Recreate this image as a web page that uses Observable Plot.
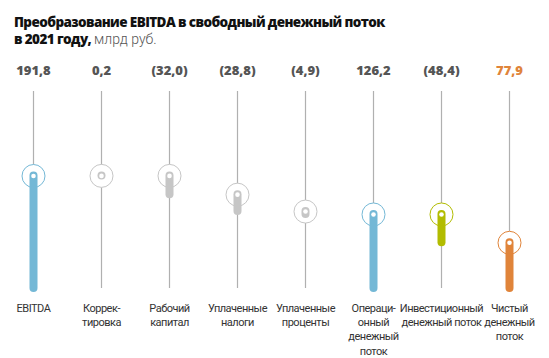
<!DOCTYPE html>
<html><head><meta charset="utf-8">
<script src="https://cdn.jsdelivr.net/npm/d3@7"></script>
<script src="https://cdn.jsdelivr.net/npm/@observablehq/plot@0.6"></script>
<style>
body{margin:0;background:#fff;font-family:"Open Sans",sans-serif;}
#title{height:55px;box-sizing:border-box;padding:14px 0 0 14px;font-size:13.5px;line-height:17px;color:#111;font-weight:800;white-space:nowrap;letter-spacing:-0.6px;}
#title .unit{font-family:Roboto,sans-serif;font-size:14px;font-weight:300;color:#555;letter-spacing:0;}
</style></head><body>
<div id="title">Преобразование EBITDA в свободный денежный поток<br>в 2021 году, <span class="unit">млрд руб.</span></div>
<div id="chart"></div>
<script>
const categories = ["EBITDA", "Коррек-\nтировка", "Рабочий\nкапитал", "Уплаченные\nналоги", "Уплаченные\nпроценты", "Операци-\nонный\nденежный\nпоток", "Инвестиционный\nденежный поток", "Чистый\nденежный\nпоток"];
const values = [191.8, 0.2, -32.0, -28.8, -4.9, 126.2, -48.4, 77.9];
const valueLabels = ["191,8", "0,2", "(32,0)", "(28,8)", "(4,9)", "126,2", "(48,4)", "77,9"];
const kinds = ["total", "change", "change", "change", "change", "total", "change", "total"];
const barColors = ["#74b8d6", "#c6c6c6", "#c6c6c6", "#c6c6c6", "#c6c6c6", "#74b8d6", "#b2bc00", "#e0843a"];
const labelColors = ["#555", "#555", "#555", "#555", "#555", "#555", "#555", "#e0843a"];

let running = 0;
const data = categories.map((cat, i) => {
  let start, end;
  if (kinds[i] === "total") { start = 0; end = values[i]; running = values[i]; }
  else { start = running; end = running + values[i]; running = end; }
  return {cat, start, end, top: Math.max(start, end), label: valueLabels[i], color: barColors[i], labelColor: labelColors[i]};
});

const yMax = 342.7;
const chart = Plot.plot({
  width: 549, height: 303,
  marginLeft: 31, marginRight: 39, marginTop: 32, marginBottom: 70,
  style: {fontFamily: "'Open Sans', sans-serif", background: "white"},
  x: {type: "point", domain: categories, padding: 0, axis: null},
  y: {domain: [0, yMax], axis: null},
  color: {type: "identity"},
  marks: [
    Plot.ruleX(data, {x: "cat", y1: 0, y2: yMax, stroke: "#b0b0b0", strokeWidth: 1.2, insetBottom: -4}),
    Plot.dot(data, {x: "cat", y: "top", r: 11.5, fill: "white", stroke: "color", strokeWidth: 1}),
    Plot.ruleX(data, {x: "cat", y1: "start", y2: "end", stroke: "color", strokeWidth: 8, strokeLinecap: "round"}),
    Plot.dot(data, {x: "cat", y: "top", r: 2.3, fill: "white"}),
    Plot.text(data, {x: "cat", y: yMax, text: "label", dy: -17, fill: "labelColor", fontSize: 13, fontWeight: 800}),
    Plot.text(data, {x: "cat", y: 0, text: "cat", dy: 13, lineAnchor: "top", fontSize: 11, lineHeight: 1.3, fill: "#333", fontFamily: "Roboto", fontWeight: 400})
  ]
});
const textGroups = chart.querySelectorAll('g[aria-label="text"]');
textGroups[textGroups.length - 1].setAttribute("letter-spacing", "-0.5px");
document.getElementById("chart").appendChild(chart);
</script>
</body></html>
